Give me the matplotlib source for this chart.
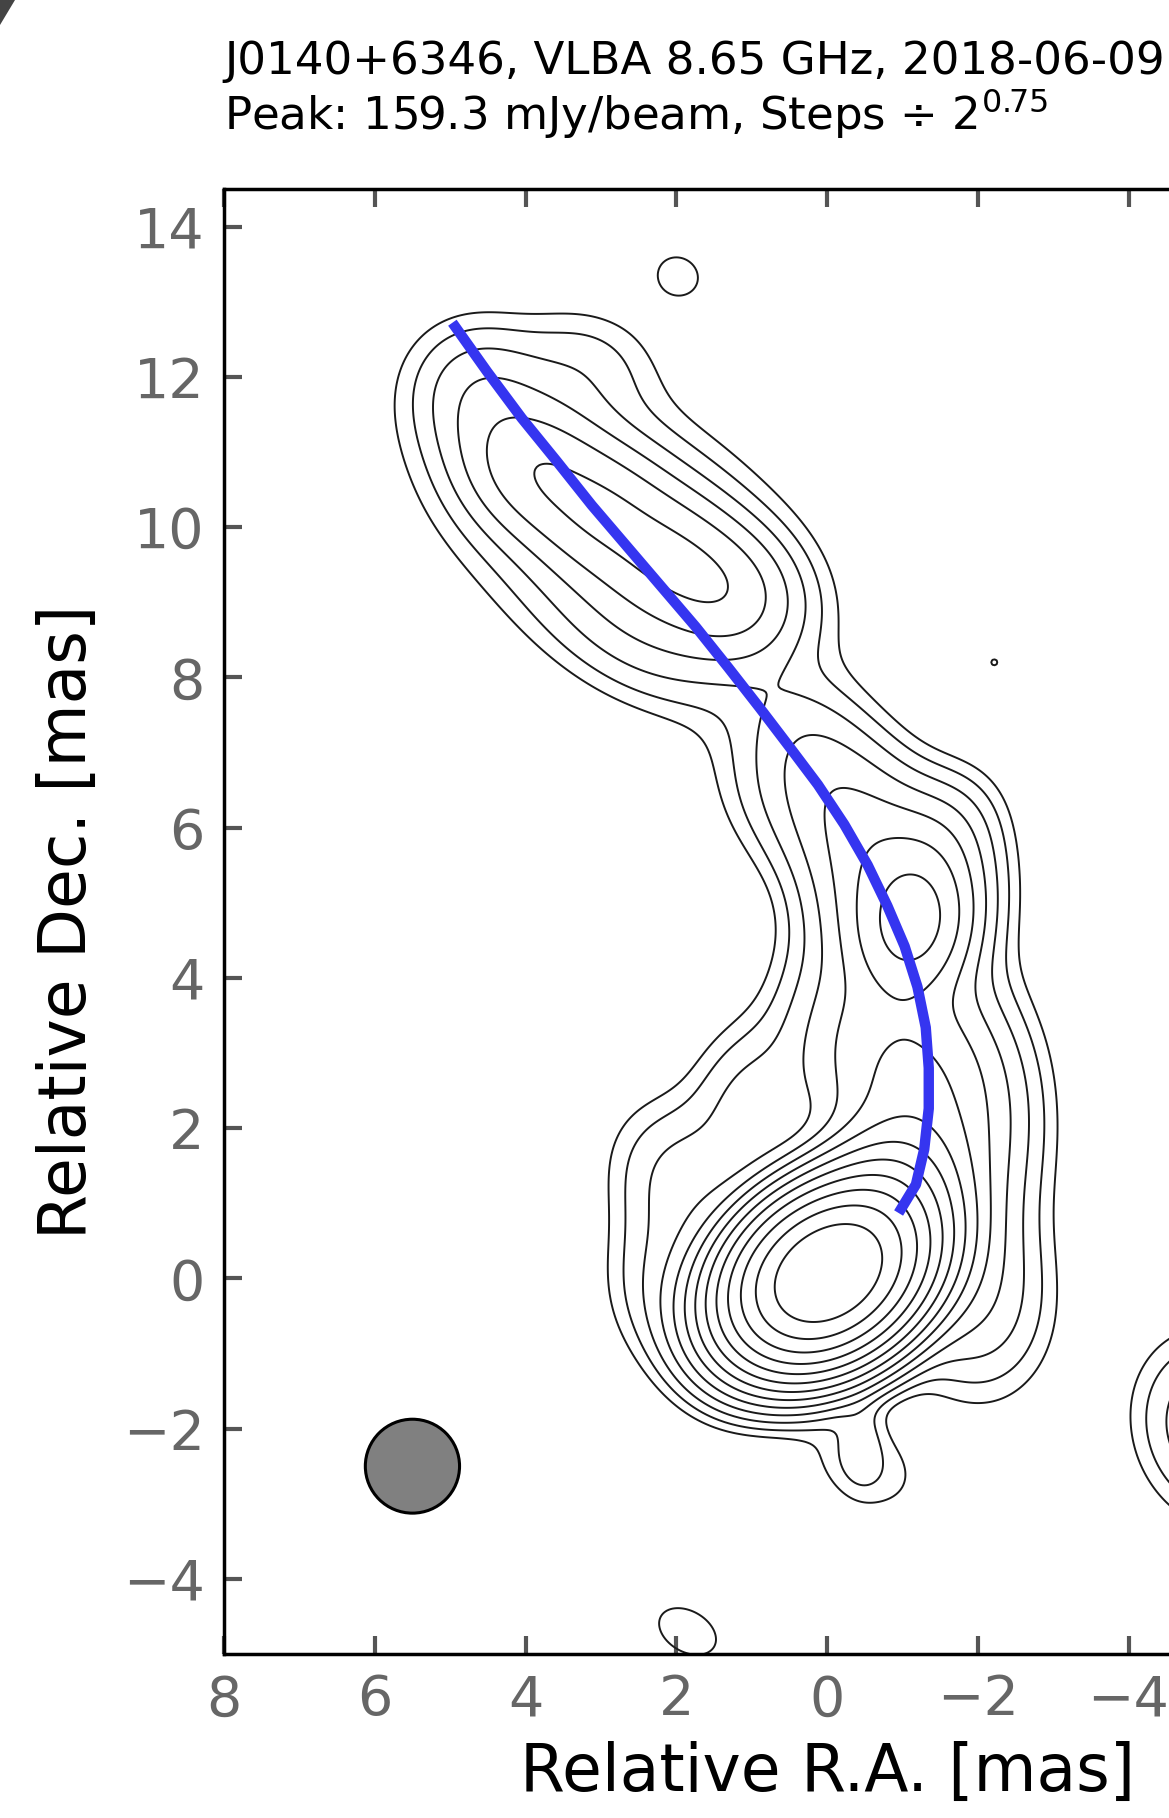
import numpy as np
import matplotlib
matplotlib.use("Agg")
import matplotlib.pyplot as plt
from matplotlib.patches import Ellipse, Polygon

# map parameters
peak = 159.3          # mJy/beam
lowest = 0.16         # mJy/beam, first contour
step_pow = 0.75
n_levels = 13

# gaussian model components: RA, Dec [mas], amplitude [mJy/beam], two FWHM [mas], PA [deg]
comp_x = [0.0, -0.7, -1.9, -2.0, 1.9, 1.0, 2.1, 1.5, -0.45, -0.5,
          -1.1, -0.2, -1.15, -1.0,
          -0.4, 0.3, -1.5, 0.9,
          2.8, 3.9, 3.0, 2.1, 1.3, 4.6, 3.2, 2.5,
          1.97, 1.85, -2.22, -5.2]
comp_y = [0.05, 0.9, -0.2, 2.0, 1.3, 2.3, 0.0, -1.0, -2.15, -2.5,
          2.6, 3.2, 4.7, 5.0,
          6.0, 7.1, 5.8, 6.3,
          10.0, 10.8, 10.2, 9.6, 9.1, 11.8, 12.2, 8.5,
          13.35, -4.7, 8.2, -2.0]
comp_amp = [150, 10, 0.7, 0.7, 0.5, 0.5, 0.4, 0.3, 0.2, 0.25,
            2.0, 0.7, 3.0, 1.5,
            1.2, 0.3, 0.35, 0.15,
            0.7, 1.3, 1.3, 1.3, 1.3, 0.5, 0.25, 0.3,
            0.2, 0.22, 0.165, 0.8]
comp_maj = [1.6, 1.6, 2.0, 2.6, 1.7, 1.6, 1.6, 1.5, 0.9, 1.4,
            2.0, 1.8, 1.3, 2.0,
            2.2, 1.6, 1.4, 1.8,
            4.0, 1.4, 1.4, 1.4, 1.4, 1.4, 1.5, 2.2,
            0.9, 1.2, 0.3, 1.8]
comp_min = [1.2, 1.2, 1.5, 1.4, 1.4, 1.2, 1.3, 1.2, 0.45, 1.0,
            1.5, 1.4, 1.0, 1.6,
            1.4, 1.2, 1.0, 1.2,
            2.3, 1.2, 1.2, 1.2, 1.2, 1.3, 1.2, 1.2,
            0.8, 0.8, 0.3, 1.5]
comp_pa = [-55, -30, 10, 0, 30, 0, 0, 40, 0, 60,
           -5, 0, -10, -20,
           30, 30, -30, 30,
           56, 56, 56, 56, 56, 30, 80, 60,
           60, 60, 0, 20]

# ridge line
ridge_x = [4.97, 4.51, 4.05, 3.58, 3.12, 2.66, 2.20, 1.74, 1.31, 0.89, 0.51, 0.12,
           -0.23, -0.54, -0.80, -1.03, -1.20, -1.31, -1.35, -1.35, -1.29, -1.18, -0.95]
ridge_y = [12.72, 12.07, 11.45, 10.87, 10.29, 9.75, 9.21, 8.67, 8.13, 7.59, 7.09, 6.57,
           6.04, 5.50, 4.96, 4.42, 3.88, 3.34, 2.80, 2.26, 1.72, 1.25, 0.87]

beam_x, beam_y, beam_size = 5.5, -2.5, 1.25

# build the model image
gx = np.arange(-8, 8.01, 0.025)
gy = np.arange(-5, 14.51, 0.025)
X, Y = np.meshgrid(gx, gy)
img = np.zeros_like(X)
for x0, y0, a, bmaj, bmin, pa in zip(comp_x, comp_y, comp_amp, comp_maj, comp_min, comp_pa):
    t = np.deg2rad(pa)
    u = (X - x0) * np.sin(t) + (Y - y0) * np.cos(t)
    v = (X - x0) * np.cos(t) - (Y - y0) * np.sin(t)
    img += a * np.exp(-4 * np.log(2) * ((u / bmaj) ** 2 + (v / bmin) ** 2))

levels = lowest * 2 ** (step_pow * np.arange(n_levels))

fig = plt.figure(figsize=(11.69, 18.18), dpi=100)
ax = fig.add_axes([224 / 1169, (1818 - 1654) / 1818, 1206 / 1169, 1465 / 1818])

ax.contour(X, Y, img, levels=levels, colors='#1a1a1a', linewidths=1.4)
ax.plot(ridge_x, ridge_y, color='#3535f0', lw=7.5, solid_capstyle='butt', solid_joinstyle='round')
ax.add_patch(Ellipse((beam_x, beam_y), beam_size, beam_size, facecolor='#808080',
                     edgecolor='black', lw=2.2, zorder=5))

ax.set_xlim(8, -8)
ax.set_ylim(-5, 14.5)
ax.set_xticks(np.arange(-8, 9, 2))
ax.set_yticks(np.arange(-4, 15, 2))
ax.tick_params(direction='in', top=True, right=True, length=13, width=3,
               color='#555555', labelcolor='#666666', labelsize=40, pad=14)
for s in ax.spines.values():
    s.set_linewidth(2.5)

ax.set_xlabel('Relative R.A. [mas]', fontsize=46.5, labelpad=10)
ax.set_ylabel('Relative Dec. [mas]', fontsize=46.5, labelpad=16)

fig.text(224 / 1169, 1 - 74 / 1818, 'J0140+6346, VLBA 8.65 GHz, 2018-06-09',
         fontsize=32.5, ha='left', va='baseline')
fig.text(224 / 1169, 1 - 130 / 1818, 'Peak: %.1f mJy/beam, Steps $\\div$ $2^{%.2f}$' % (peak, step_pow),
         fontsize=32.5, ha='left', va='baseline')

# dark corner from the scan
fig.patches.append(Polygon([[0, 1], [15 / 1169, 1], [0, 1 - 25 / 1818]], closed=True,
                           transform=fig.transFigure, facecolor='#444444', edgecolor='none'))

fig.savefig('out.png', dpi=100)
